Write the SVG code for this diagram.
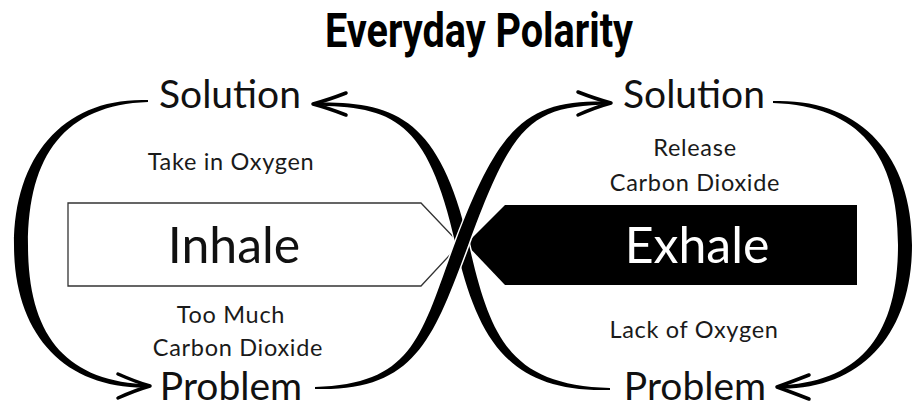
<svg xmlns="http://www.w3.org/2000/svg" width="920" height="417" viewBox="0 0 920 417">
  <style>
    .lbl { font-family: Lato, "Noto Sans", sans-serif; fill: #111; text-anchor: middle; }
    .big { font-size: 39px; }
    .small { font-size: 23.5px; letter-spacing: 0.7px; fill: #1a1a1a; }
    .box { font-size: 50px; }
    .title { font-family: Roboto, "Liberation Sans", sans-serif; font-weight: 700; font-size: 48px; fill: #000; text-anchor: middle; }
    .body { fill: #000; }
    .halo { stroke: #fff; stroke-width: 3; paint-order: stroke; stroke-linejoin: round; }
    .head { fill: none; stroke: #000; stroke-width: 3.5; stroke-linecap: round; stroke-linejoin: round; }
  </style>

  <text id="title" class="title" x="479" y="47" textLength="308" lengthAdjust="spacingAndGlyphs">Everyday Polarity</text>

  <!-- pole boxes -->
  <g id="inhale">
    <polygon points="68,203 421,203 460,244 421,286 68,286" fill="#fff" stroke="#333" stroke-width="1.3"/>
    <text class="lbl box" x="234" y="263">Inhale</text>
  </g>
  <g id="exhale">
    <polygon points="466,244 505,205 857,205 857,285 505,285" fill="#000"/>
    <text class="lbl box" x="697" y="263" style="fill:#fff">Exhale</text>
  </g>

  <!-- tapered loop strokes with arrowheads -->
  <g id="connectors">
    <!-- left loop: Solution -> Problem -->
    <path class="body" d="M148,100 C65,97 14,155 14,245 C14,335 65,390 150,387.5 L150,384.5 C65,382 28,335 28,245 C28,155 65,105 148,102 Z"/>
    <path class="head" d="M118,374 Q136,382 150,386 Q136,390 118,398"/>

    <!-- right loop: Solution -> Problem -->
    <path class="body" d="M773,101 C860,98 912,155 912,245 C912,335 860,391 777,388.5 L777,385.5 C860,383 898,335 898,245 C898,155 860,106 773,103 Z"/>
    <path class="head" d="M809,375 Q791,382 777,387 Q791,392 809,399"/>

    <!-- crossing: right Problem -> left Solution -->
    <path class="body halo" d="M610,390 C510,393 477.7,341.4 455.7,244.4 C427.2,118.3 393,107 313,105.5 L313,102.5 C393,101 438.8,115.7 468.3,241.6 C490.3,338.6 510,385 610,388 Z"/>
    <path class="head" d="M346,93 Q328,100 313,104 Q328,108 346,115"/>

    <!-- crossing: left Problem -> right Solution -->
    <path class="body halo" d="M315,387 C415,384 420.9,334.7 455.9,240.7 C501.9,118.9 530,100 610,101.5 L610,104.5 C530,106 513.1,123.1 468.1,245.3 C433.1,339.3 415,392 315,389 Z"/>
    <path class="head" d="M578,92 Q596,99 611,103 Q596,107 578,115"/>
  </g>

  <!-- pole labels -->
  <g id="solution-left"><text class="lbl big" x="230" y="108">Solution</text></g>
  <g id="solution-right"><text class="lbl big" x="694" y="108">Solution</text></g>
  <g id="problem-left"><text class="lbl big" x="231" y="400">Problem</text></g>
  <g id="problem-right"><text class="lbl big" x="695" y="400">Problem</text></g>

  <!-- quadrant notes -->
  <g id="note-take-in-oxygen"><text class="lbl small" x="231" y="170">Take in Oxygen</text></g>
  <g id="note-release-co2">
    <text class="lbl small" x="695" y="156">Release</text>
    <text class="lbl small" x="695" y="191">Carbon Dioxide</text>
  </g>
  <g id="note-too-much-co2">
    <text class="lbl small" x="231" y="323">Too Much</text>
    <text class="lbl small" x="238" y="356">Carbon Dioxide</text>
  </g>
  <g id="note-lack-of-oxygen"><text class="lbl small" x="694" y="338">Lack of Oxygen</text></g>
</svg>
